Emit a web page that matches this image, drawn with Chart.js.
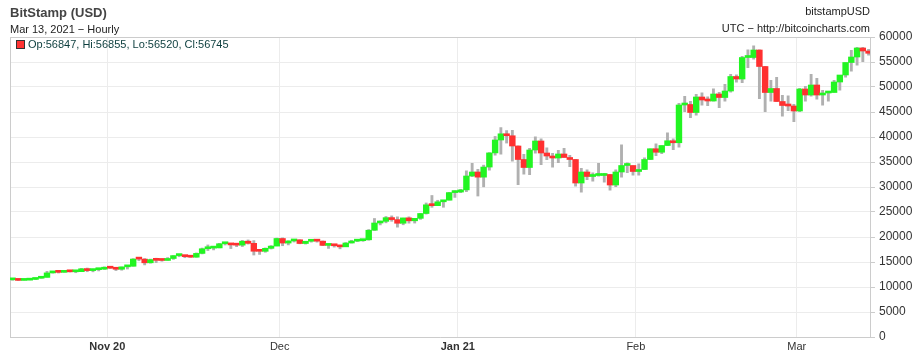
<!DOCTYPE html>
<html>
<head>
<meta charset="utf-8">
<script src="https://cdn.jsdelivr.net/npm/chart.js@4.4.1/dist/chart.umd.min.js"></script>
<style>
  html, body { margin: 0; padding: 0; background: #fff; }
  #wrap { position: relative; width: 922px; height: 356px; font-family: "Liberation Sans", Arial, sans-serif; }
  #c { position: absolute; left: 0; top: 0; }
  .t { position: absolute; white-space: nowrap; line-height: 1; }
  #title { left: 10px; top: 6px; font-size: 13px; font-weight: bold; color: #444; }
  #sub { left: 10px; top: 24px; font-size: 11px; color: #222; }
  #rt1 { right: 52px; top: 6px; font-size: 11px; color: #222; }
  #rt2 { right: 52px; top: 23px; font-size: 11px; color: #222; }
  #leg { left: 16px; top: 39px; font-size: 11px; color: #0b3d3d; }
  #leg .sq { display: inline-block; width: 7px; height: 7px; background: #ff3333; border: 1px solid #333; margin-right: 3px; vertical-align: -1px; }
</style>
</head>
<body>
<div id="wrap">
  <canvas id="c" width="922" height="356"></canvas>
  <div class="t" id="title">BitStamp (USD)</div>
  <div class="t" id="sub">Mar 13, 2021 &minus; Hourly</div>
  <div class="t" id="rt1">bitstampUSD</div>
  <div class="t" id="rt2">UTC &minus; http://bitcoincharts.com</div>
  <div class="t" id="leg"><span class="sq"></span>Op:56847, Hi:56855, Lo:56520, Cl:56745</div>
</div>
<script>
// Day index of first candle, counted in days from 2020-10-01 (Oct 15, 2020)
const firstDay = 14;

const opens = [
  11430,11500,11320,11370,11510,11750,11920,12820,12970,12930,13120,13040,13070,13650,13280,13460,13560,
  13800,13760,13550,14030,14150,15590,15580,14840,15480,15330,15310,15700,16280,16320,16070,15960,16720,17650,17780,17820,18650,18700,18420,18370,19160,18730,17150,17140,17730,18180,
  19700,18790,19210,19440,18700,19150,19370,19170,18320,18550,18250,18030,18800,19170,19270,19440,21350,22800,23130,23870,23480,22750,23820,23240,23730,24700,26440,26270,27040,27360,28880,
  28990,29420,32200,33000,31970,33990,36820,39400,40640,40250,38200,35500,33900,37400,39200,36800,36200,35800,36600,35900,35500,30800,33000,32100,32300,32300,32500,30400,33000,34300,34300,
  33100,33500,35500,37650,36950,38300,39250,38850,46400,46500,44900,48000,47400,47200,48600,47900,49200,52100,51600,55900,55900,57400,54100,48900,49700,47100,46300,46200,
  45200,49600,48400,50400,48400,48800,48900,51000,52400,54900,56000,57800,57200
];
const highs = [
  11560,11540,11400,11520,11800,12000,13200,13180,13030,13150,13340,13250,13790,13860,13630,13680,14090,
  13900,13830,14070,14250,15740,15970,15760,15650,15830,15480,15960,16340,16480,16330,16140,16880,17860,18480,18160,18800,18960,18730,18770,19400,19480,19350,17450,17880,18350,19850,
  19900,19330,19570,19520,19160,19410,19420,19290,18630,18560,18270,18950,19410,19330,19560,21560,23770,23260,24170,24290,24100,23830,24100,23780,24780,26870,28370,27410,27380,28990,29300,
  29600,33300,34800,33600,34440,36940,40180,41950,41350,41400,38300,36600,37800,40100,39700,37900,36800,37400,37800,36400,35600,33800,33500,32900,34800,32800,32600,33500,38500,34900,34300,
  34700,35900,37700,38700,38300,40900,39700,46800,48200,47200,48600,48900,48100,49700,49000,50600,52600,52500,56200,57500,58300,57500,54200,51400,52000,48400,48300,46600,
  49800,50200,52600,51800,49400,49200,51400,52400,54900,57400,58000,58000,57600
];
const lows = [
  11280,11230,11300,11350,11420,11680,11900,12700,12730,12880,12920,12790,13050,12990,12970,13150,13440,
  13620,13220,13290,13530,14100,15190,14350,14700,14810,15090,15290,15460,15990,15790,15860,15880,16550,17220,17350,17760,18340,17620,18000,18020,18520,16330,16450,16880,17530,18180,
  18190,18350,18930,18570,18520,18900,18900,18200,17650,17910,17570,18020,18720,19000,19060,19290,21240,22350,22770,23080,21900,22380,22700,22720,23450,24520,25870,26200,25880,27320,27850,
  28800,29000,32000,28130,29970,33300,36300,36500,38720,35100,30400,32500,32400,36700,34400,35400,33900,34800,35900,34000,30100,28900,31400,31100,32100,30900,29300,30000,31900,32800,32300,
  32300,33400,35400,36200,36600,38200,37400,37900,45000,43800,44300,46300,46200,47100,45800,47100,48900,50900,50800,53800,55500,47600,45000,47100,47000,44100,45200,43000,
  45000,47100,48100,47500,46300,47100,48900,49300,51900,53100,54300,55000,56300
];
const closes = [
  11500,11320,11370,11510,11750,11920,12820,12970,12930,13120,13040,13070,13650,13280,13460,13560,13800,
  13760,13550,14030,14150,15590,15580,14840,15480,15330,15310,15700,16280,16320,16070,15960,16720,17650,17780,17820,18650,18700,18420,18370,19160,18730,17150,17140,17730,18180,19700,
  18790,19210,19440,18700,19150,19370,19170,18320,18550,18250,18030,18800,19170,19270,19440,21350,22800,23130,23870,23480,22750,23820,23240,23730,24700,26440,26270,27040,27360,28880,28990,
  29420,32200,33000,31970,33990,36820,39400,40640,40250,38200,35500,33900,37400,39200,36800,36200,35800,36600,35900,35500,30800,33000,32100,32300,32300,32500,30400,33000,34300,34300,33100,
  33500,35500,37650,36950,38300,39250,38850,46400,46500,44900,48000,47400,47200,48600,47900,49200,52100,51600,55900,55900,57400,54100,48900,49700,47100,46300,46200,45200,
  49600,48400,50400,48400,48800,48900,51000,52400,54900,56000,57800,57200,56745
];

// Month boundaries (days from 2020-10-01) and their labels
const monthTicks = [31, 61, 92, 123, 151];
const monthLabels = ['Nov 20', 'Dec', 'Jan 21', 'Feb', 'Mar'];
const yTicks = [0,5000,10000,15000,20000,25000,30000,35000,40000,45000,50000,55000,60000];

const UP = '#22f522', DOWN = '#ff3030', WICK = '#b0b0b0';

const bodyData = [], wickData = [], bodyColors = [];
for (let i = 0; i < closes.length; i++) {
  const x = firstDay + i + 0.5;
  bodyData.push({ x: x, y: [opens[i], closes[i]] });
  wickData.push({ x: x, y: [lows[i], highs[i]] });
  bodyColors.push(closes[i] >= opens[i] ? UP : DOWN);
}

const frame = {
  id: 'frame',
  beforeDatasetsDraw(chart) {
    const a = chart.chartArea, ctx = chart.ctx;
    ctx.save();
    ctx.strokeStyle = '#cccccc';
    ctx.lineWidth = 1;
    ctx.beginPath();
    ctx.moveTo(Math.round(a.left) + 0.5, a.bottom);
    ctx.lineTo(Math.round(a.left) + 0.5, a.top);
    ctx.moveTo(a.left, Math.round(a.top) + 0.5);
    ctx.lineTo(a.right, Math.round(a.top) + 0.5);
    ctx.stroke();
    ctx.restore();
  }
};

Chart.defaults.font.family = '"Liberation Sans", Arial, sans-serif';

new Chart(document.getElementById('c'), {
  type: 'bar',
  data: {
    datasets: [
      { data: wickData, backgroundColor: WICK, grouped: false, order: 2,
        barPercentage: 0.5, categoryPercentage: 1, borderWidth: 0 },
      { data: bodyData, backgroundColor: bodyColors, grouped: false, order: 1,
        barPercentage: 1, categoryPercentage: 1, borderWidth: 0, minBarLength: 2 }
    ]
  },
  options: {
    responsive: false,
    animation: false,
    events: [],
    layout: { padding: { left: 10, top: 37, right: 0, bottom: 0 } },
    plugins: { legend: { display: false }, tooltip: { enabled: false } },
    scales: {
      x: {
        type: 'linear',
        offset: false,
        min: 14.06,
        max: 163.75,
        afterFit(scale) { scale.height = 19; },
        afterBuildTicks(scale) { scale.ticks = monthTicks.map(v => ({ value: v })); },
        grid: { color: '#ececec', drawTicks: false, tickLength: 0, offset: false },
        border: { display: true, color: '#cccccc' },
        ticks: {
          autoSkip: false, maxRotation: 0, padding: 3, color: '#333',
          font: (ctx) => ({ size: 11, weight: /\d/.test(monthLabels[ctx.index] || '') ? 'bold' : 'normal' }),
          callback: (v, i) => monthLabels[i]
        }
      },
      y: {
        position: 'right',
        min: 0,
        max: 60000,
        afterFit(scale) { scale.width = 52; },
        afterBuildTicks(scale) { scale.ticks = yTicks.map(v => ({ value: v })); },
        grid: { color: '#ececec', tickColor: '#cccccc', tickLength: 5, drawTicks: true },
        border: { display: true, color: '#cccccc' },
        ticks: { padding: 4, color: '#333', font: { size: 12 }, callback: (v) => String(v) }
      }
    }
  },
  plugins: [frame]
});
</script>
</body>
</html>
